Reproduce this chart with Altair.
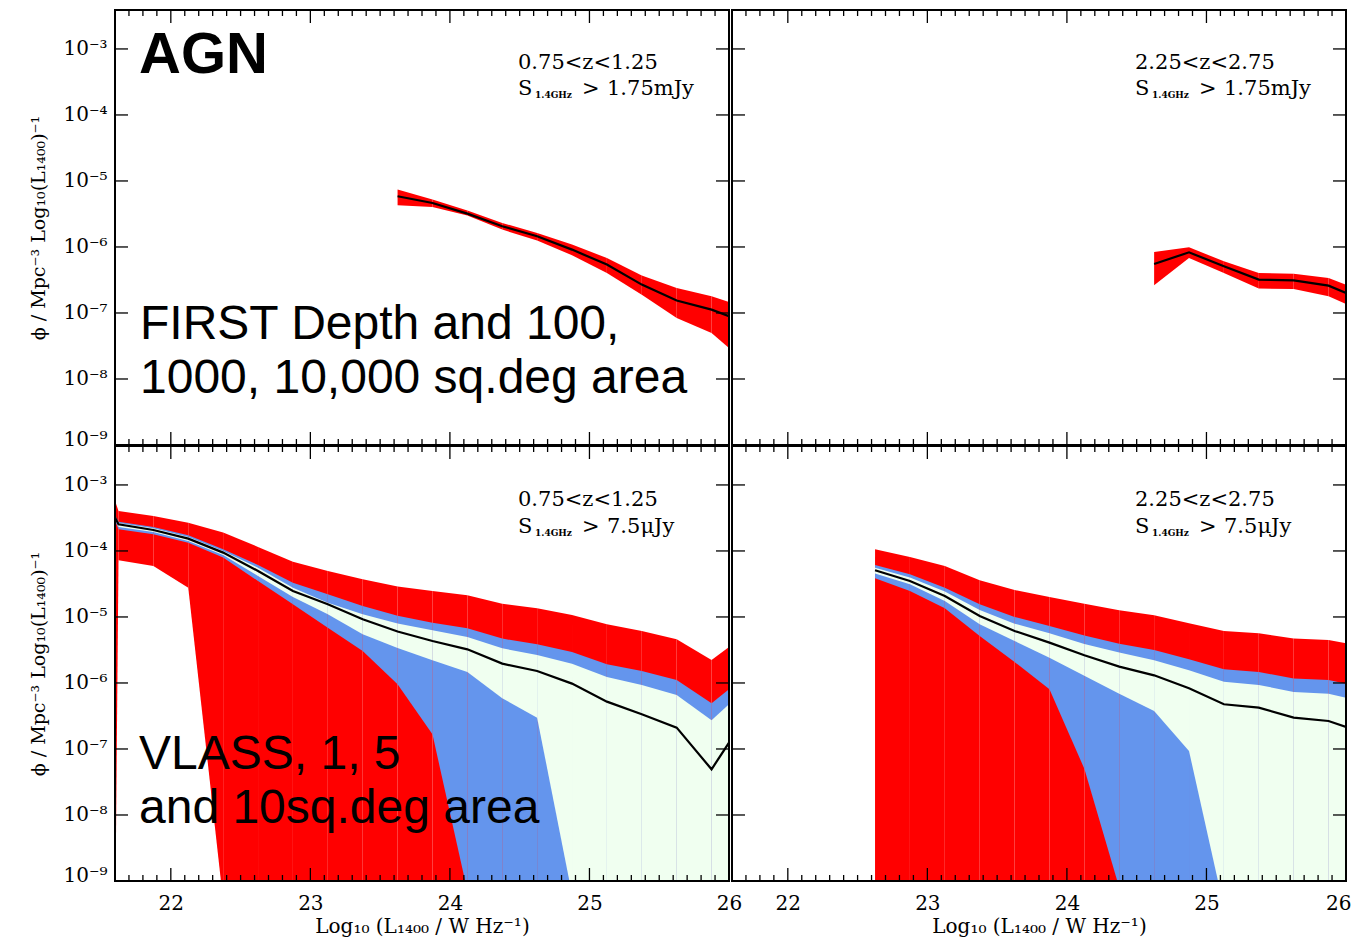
import altair as alt
import pandas as pd

# ---------------- data (log10 of phi) ----------------
# Bottom-left: VLASS / 1, 5, 10 sq.deg, 0.75<z<1.25
L_BL = [21.600, 21.625, 21.875, 22.125, 22.375, 22.625, 22.875, 23.125, 23.375, 23.625,
        23.875, 24.125, 24.375, 24.625, 24.875, 25.125, 25.375, 25.625, 25.875, 26.000]
BL_RED_HI = [-3.24, -3.394, -3.470, -3.571, -3.722, -3.939, -4.162, -4.303, -4.429, -4.54,
             -4.606, -4.672, -4.798, -4.869, -4.970, -5.111, -5.212, -5.338, -5.652, -5.455]
BL_RED_LO = [-10.0, -4.141, -4.227, -4.556, -9.3, -9.6, -9.6, -9.6, -9.6, -9.6,
             -9.6, -9.6, -9.6, -9.6, -9.6, -9.6, -9.6, -9.6, -9.6, -9.6]
BL_BLUE_HI = [-3.46, -3.556, -3.636, -3.763, -3.975, -4.212, -4.480, -4.657, -4.833, -4.98,
              -5.086, -5.172, -5.328, -5.414, -5.530, -5.717, -5.818, -5.955, -6.308, -6.096]
BL_BLUE_LO = [-3.54, -3.672, -3.747, -3.874, -4.101, -4.455, -4.808, -5.162, -5.515, -6.02,
              -6.778, -9.15, -9.6, -9.6, -9.6, -9.6, -9.6, -9.6, -9.6, -9.6]
BL_GREEN_HI = [-3.47, -3.576, -3.657, -3.788, -4.000, -4.253, -4.556, -4.783, -4.960, -5.10,
               -5.202, -5.303, -5.475, -5.576, -5.707, -5.909, -6.030, -6.182, -6.566, -6.323]
BL_GREEN_LO = [-3.52, -3.636, -3.712, -3.848, -4.061, -4.379, -4.697, -4.960, -5.263, -5.47,
               -5.657, -5.833, -6.232, -6.525, -9.2, -9.6, -9.6, -9.6, -9.6, -9.6]
BL_LINE = [-3.495, -3.596, -3.682, -3.813, -4.025, -4.303, -4.606, -4.808, -5.035, -5.22,
           -5.364, -5.490, -5.707, -5.818, -6.010, -6.283, -6.475, -6.677, -7.308, -6.904]

# Bottom-right: VLASS / 1, 5, 10 sq.deg, 2.25<z<2.75
L_BR = [22.625, 22.875, 23.125, 23.375, 23.625, 23.875, 24.125, 24.375,
        24.625, 24.875, 25.125, 25.375, 25.625, 25.875, 26.000]
BR_RED_HI = [-3.975, -4.091, -4.227, -4.444, -4.591, -4.697, -4.80, -4.899,
             -4.975, -5.096, -5.212, -5.247, -5.328, -5.348, -5.399]
BR_RED_LO = [-9.6] * 15
BR_BLUE_HI = [-4.212, -4.354, -4.556, -4.808, -5.0, -5.136, -5.28, -5.404,
              -5.5, -5.641, -5.793, -5.833, -5.934, -5.955, -6.010]
BR_BLUE_LO = [-4.414, -4.606, -4.869, -5.288, -5.682, -6.096, -7.3, -9.1,
              -9.6, -9.6, -9.6, -9.6, -9.6, -9.6, -9.6]
BR_GREEN_HI = [-4.253, -4.404, -4.616, -4.894, -5.101, -5.247, -5.41, -5.540,
               -5.657, -5.808, -5.980, -6.030, -6.136, -6.162, -6.222]
BR_GREEN_LO = [-4.343, -4.505, -4.758, -5.111, -5.364, -5.616, -5.89, -6.162,
               -6.424, -7.030, -9.4, -9.6, -9.6, -9.6, -9.6]
BR_LINE = [-4.293, -4.455, -4.682, -4.985, -5.212, -5.389, -5.58, -5.753,
           -5.884, -6.081, -6.323, -6.374, -6.525, -6.576, -6.667]

# Top-left: FIRST depth, 0.75<z<1.25
L_TL = [23.625, 23.875, 24.125, 24.375, 24.625, 24.875, 25.125, 25.375, 25.625, 25.875, 26.000]
TL_RED_HI = [-5.131, -5.282, -5.448, -5.636, -5.788, -5.964, -6.167, -6.434, -6.621, -6.747, -6.833]
TL_RED_LO = [-5.368, -5.395, -5.525, -5.737, -5.903, -6.126, -6.394, -6.722, -7.076, -7.303, -7.530]
TL_LINE = [-5.232, -5.333, -5.495, -5.686, -5.838, -6.040, -6.267, -6.570, -6.812, -6.949, -7.05]

# Top-right: FIRST depth, 2.25<z<2.75
L_TR = [24.625, 24.875, 25.125, 25.375, 25.625, 25.875, 26.000]
TR_RED_HI = [-6.076, -6.005, -6.217, -6.394, -6.404, -6.470, -6.571]
TR_RED_LO = [-6.580, -6.167, -6.394, -6.631, -6.636, -6.747, -6.863]
TR_LINE = [-6.258, -6.081, -6.293, -6.495, -6.505, -6.586, -6.697]

# tick values / labels
X_MAJOR = [22, 23, 24, 25, 26]
X_MINOR = [v / 10 for v in range(217, 260) if v % 10 != 0]
Y_MAJOR = [1e-9, 1e-8, 1e-7, 1e-6, 1e-5, 1e-4, 1e-3]
Z_LEFT = "0.75<z<1.25"
Z_RIGHT = "2.25<z<2.75"
FLUX_TOP = "1.75mJy"
FLUX_BOT = "7.5\u03bcJy"
X_TITLE = "Log\u2081\u2080 (L\u2081\u2084\u2080\u2080  /  W  Hz\u207b\u00b9)"
Y_TITLE = "\u03d5  /  Mpc\u207b\u00b3 Log\u2081\u2080(L\u2081\u2084\u2080\u2080)\u207b\u00b9"

RED, BLUE, GREEN = "#ff0000", "#6495ed", "#f0fff0"

# ---------------- layout constants ----------------
W, H = 614, 435
XS = alt.Scale(domain=[21.6, 26.0], nice=False, zero=False)
YS = alt.Scale(type="log", domain=[1e-9, 10 ** -2.41], nice=False)
SERIF = "DejaVu Serif"
SANS = "Liberation Sans"


def x_axis(flush):
    return alt.Axis(values=X_MAJOR, ticks=False, domain=False, grid=False,
                    labelFont=SERIF, labelFontSize=20, labelColor="black",
                    labelPadding=12, labelFlush=flush, labelFlushOffset=5 if flush else 0,
                    labelOverlap=False, format="d",
                    title=X_TITLE, titleFont=SERIF, titleFontSize=20,
                    titleFontWeight="normal", titleColor="black", titlePadding=3)


Y_AXIS = alt.Axis(values=Y_MAJOR, ticks=False, domain=False, grid=False,
                  labelExpr="'10' + ['\u207b\u2079','\u207b\u2078','\u207b\u2077','\u207b\u2076',"
                            "'\u207b\u2075','\u207b\u2074','\u207b\u00b3'][round(log(datum.value)/LN10) + 9]",
                  labelFont=SERIF, labelFontSize=20, labelColor="black", labelPadding=8,
                  labelOffset={"condition": {"test": "datum.value < 2e-9", "value": -6}, "value": 0},
                  title=Y_TITLE, titleFont=SERIF, titleFontSize=19,
                  titleFontWeight="normal", titleColor="black", titlePadding=14)


def seg_df(L, lo, hi):
    rows = []
    for i in range(len(L) - 1):
        for j in (i, i + 1):
            rows.append({"L": L[j], "lo": 10 ** lo[j], "hi": 10 ** hi[j], "seg": i})
    return pd.DataFrame(rows)


def txt(s, x, y, size, font=SERIF, weight="normal", baseline="middle"):
    return alt.Chart(pd.DataFrame({"t": [s]})).mark_text(
        align="left", baseline=baseline, font=font, fontSize=size,
        fontWeight=weight, color="black").encode(
        text="t:N", x=alt.value(x), y=alt.value(y))


def panel(L, bands, line, xaxis, yaxis, texts):
    layers = []
    for lo, hi, col in bands:
        layers.append(alt.Chart(seg_df(L, lo, hi)).mark_area(color=col, clip=True).encode(
            x=alt.X("L:Q", scale=XS, axis=xaxis),
            y=alt.Y("lo:Q", scale=YS, axis=yaxis),
            y2="hi:Q", detail="seg:N"))
    ldf = pd.DataFrame({"L": L, "phi": [10 ** v for v in line]})
    layers.append(alt.Chart(ldf).mark_line(color="black", strokeWidth=2.2, clip=True).encode(
        x=alt.X("L:Q", scale=XS, axis=xaxis), y=alt.Y("phi:Q", scale=YS, axis=yaxis)))
    # frame on top of the filled bands
    layers.append(alt.Chart(pd.DataFrame({"f": [0]})).mark_rect(
        filled=False, stroke="black", strokeWidth=2).encode(
        x=alt.value(0), x2=alt.value(W), y=alt.value(0), y2=alt.value(H)))
    # inward ticks
    for vals, ln in ((X_MAJOR, 13), (X_MINOR, 6)):
        d = pd.DataFrame({"L": vals})
        for y0, y1 in ((H, H - ln), (0, ln)):
            layers.append(alt.Chart(d).mark_rule(color="black", strokeWidth=1.3).encode(
                x=alt.X("L:Q", scale=XS, axis=xaxis), y=alt.value(y0), y2=alt.value(y1)))
    dy = pd.DataFrame({"phi": Y_MAJOR})
    for x0, x1 in ((0, 13), (W, W - 13)):
        layers.append(alt.Chart(dy).mark_rule(color="black", strokeWidth=1.3).encode(
            y=alt.Y("phi:Q", scale=YS, axis=yaxis), x=alt.value(x0), x2=alt.value(x1)))
    layers.extend(texts)
    return alt.layer(*layers).properties(width=W, height=H)


def anno(z, flux, y1, y2):
    return [txt(z, 403, y1, 21),
            txt("S", 403, y2, 21),
            txt("1.4GHz", 420, y2 + 6, 9, weight="bold"),
            txt(">", 467, y2, 21),
            txt(flux, 492, y2, 21)]


tl = panel(L_TL, [(TL_RED_LO, TL_RED_HI, RED)], TL_LINE, None, Y_AXIS,
           anno(Z_LEFT, FLUX_TOP, 53, 79) + [
               txt("AGN", 24, 63, 58, font=SANS, weight="bold", baseline="alphabetic"),
               txt("FIRST Depth and 100,", 25, 329, 48, font=SANS, baseline="alphabetic"),
               txt("1000, 10,000 sq.deg area", 25, 383, 48, font=SANS, baseline="alphabetic")])
tr = panel(L_TR, [(TR_RED_LO, TR_RED_HI, RED)], TR_LINE, None, None,
           anno(Z_RIGHT, FLUX_TOP, 53, 79))
bl = panel(L_BL, [(BL_RED_LO, BL_RED_HI, RED), (BL_BLUE_LO, BL_BLUE_HI, BLUE),
                  (BL_GREEN_LO, BL_GREEN_HI, GREEN)], BL_LINE, x_axis(False), Y_AXIS,
           anno(Z_LEFT, FLUX_BOT, 54, 81) + [
               txt("VLASS, 1, 5", 24, 323, 48, font=SANS, baseline="alphabetic"),
               txt("and 10sq.deg area", 24, 377, 48, font=SANS, baseline="alphabetic")])
br = panel(L_BR, [(BR_RED_LO, BR_RED_HI, RED), (BR_BLUE_LO, BR_BLUE_HI, BLUE),
                  (BR_GREEN_LO, BR_GREEN_HI, GREEN)], BR_LINE, x_axis(True), None,
           anno(Z_RIGHT, FLUX_BOT, 54, 81))

chart = alt.concat(
    tl, tr, bl, br, columns=2, spacing={"row": 1, "column": 3}, bounds="flush",
).properties(
    padding={"left": 21, "top": 0, "right": 0, "bottom": 0}
).configure_view(stroke=None).configure(background="white")

chart.save("out.html", embed_options={"renderer": "svg", "actions": False})
